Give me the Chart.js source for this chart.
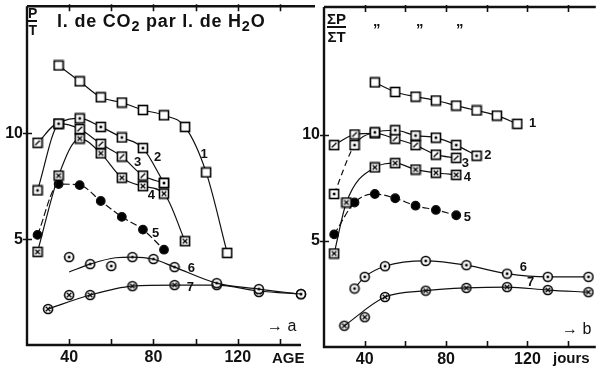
<!DOCTYPE html>
<html lang="fr">
<head>
<meta charset="UTF-8">
<title>P/T l. de CO2 par l. de H2O</title>
<script src="https://cdn.jsdelivr.net/npm/chart.js@4"></script>
<style>
body { margin:0; background:#fff; width:602px; height:368px; position:relative; overflow:hidden;
       font-family:"Liberation Sans", Arial, sans-serif; color:#111; }
canvas { position:absolute; top:0; }
#chartA { left:0; }
#chartB { left:300px; }
.t { position:absolute; font-weight:bold; white-space:nowrap; line-height:1; }
.frac { position:absolute; font-weight:bold; font-size:14px; line-height:1; text-align:center; }
.frac span { display:block; }
.frac .den { border-top:2px solid #111; padding-top:1px; }
sub { font-size:0.8em; vertical-align:-0.25em; line-height:0; }
</style>
</head>
<body>
<canvas id="chartA" width="318" height="368"></canvas>
<canvas id="chartB" width="302" height="368"></canvas>

<div class="frac" style="left:28px;top:6px;font-size:14px"><span>P</span><span class="den">T</span></div>
<div class="t" style="left:57px;top:12px;font-size:18px;letter-spacing:0.8px">l. de CO<sub>2</sub> par l. de H<sub>2</sub>O</div>
<div class="frac" style="left:327px;top:11px;font-size:15px"><span>ΣP</span><span class="den">ΣT</span></div>
<div class="t" style="left:373px;top:21px;font-size:15px">”</div>
<div class="t" style="left:416px;top:21px;font-size:15px">”</div>
<div class="t" style="left:456px;top:21px;font-size:15px">”</div>
<div class="t" style="left:272px;top:350px;font-size:15px">AGE</div>
<div class="t" style="left:553px;top:350px;font-size:15px">jours</div>
<div class="t" style="left:267px;top:318px;font-size:16px;font-weight:normal">→ a</div>
<div class="t" style="left:562px;top:321px;font-size:16px;font-weight:normal">→ b</div>

<script>
// x ticks and y ticks
const xLabels = [40, 80, 120];
const xMinor = [40, 60, 80, 100, 120, 140];
const yLabels = [5, 10];

// panel a : P/T
const a1x = [35, 45, 55, 65, 75, 85, 95, 105, 115];
const a1y = [13.2, 12.45, 11.7, 11.45, 11.1, 10.85, 10.3, 8.15, 4.35];
const a2x = [25, 35, 45, 55, 65, 75, 85];
const a2y = [7.3, 10.45, 10.7, 10.3, 9.8, 9.3, 7.65];
const a3x = [25, 35, 45, 55, 65, 75, 85];
const a3y = [9.55, 10.45, 10.2, 9.5, 8.9, 8.0, 7.65];
const a4x = [25, 35, 45, 55, 65, 75, 85, 95];
const a4y = [4.4, 8.0, 9.75, 9.05, 7.9, 7.5, 7.15, 4.9];
const a5x = [25, 35, 45, 55, 65, 75, 85];
const a5y = [5.2, 7.6, 7.55, 6.8, 6.05, 5.45, 4.5];
const a6x = [40, 50, 60, 70, 80, 90, 110, 130, 150];
const a6y = [4.15, 3.82, 3.73, 4.15, 4.06, 3.68, 2.92, 2.64, 2.4];
const a6fitx = [40, 50, 62, 70, 80, 90, 110, 130, 150];
const a6fity = [3.45, 3.82, 4.12, 4.15, 4.05, 3.68, 2.92, 2.64, 2.4];
const a7x = [30, 40, 50, 70, 90, 110, 130, 150];
const a7y = [1.7, 2.36, 2.36, 2.78, 2.83, 2.83, 2.5, 2.4];
const a7fitx = [30, 50, 70, 90, 110, 130, 150];
const a7fity = [1.7, 2.36, 2.78, 2.83, 2.83, 2.55, 2.4];

// panel b : sum P / sum T
const b1x = [45, 55, 65, 75, 85, 95, 105, 115];
const b1y = [12.45, 12.0, 11.78, 11.6, 11.36, 11.13, 10.89, 10.5];
const b2x = [25, 35, 45, 55, 65, 75, 85, 95];
const b2y = [7.2, 9.5, 10.1, 10.2, 9.95, 9.85, 9.5, 9.0];
const b3x = [25, 35, 45, 55, 65, 75, 85];
const b3y = [9.5, 10.0, 10.05, 9.8, 9.5, 9.05, 8.9];
const b4x = [25, 31, 45, 55, 65, 75, 85];
const b4y = [4.4, 6.8, 8.45, 8.65, 8.35, 8.2, 8.1];
const b5x = [25, 35, 45, 55, 65, 75, 85];
const b5y = [5.3, 6.8, 7.2, 7.0, 6.65, 6.45, 6.2];
const b6x = [35, 40, 50, 70, 90, 110, 130, 150];
const b6y = [2.75, 3.3, 3.8, 4.05, 3.85, 3.45, 3.3, 3.3];
const b7x = [30, 40, 50, 70, 90, 110, 130, 150];
const b7y = [1.0, 1.4, 2.35, 2.65, 2.78, 2.82, 2.68, 2.58];
const b7fitx = [30, 50, 70, 90, 110, 130, 150];
const b7fity = [1.0, 2.35, 2.65, 2.78, 2.82, 2.68, 2.58];

// curve numbers
const curveNames = ['1', '2', '3', '4', '5', '6', '7'];
const aNameX = [104, 82, 72.5, 79, 81, 98, 97.5];
const aNameY = [9.0, 8.85, 8.6, 7.05, 5.25, 3.6, 2.7];
const bNameX = [122.5, 100.5, 89.5, 90.5, 90.5, 118, 121.5];
const bNameY = [10.5, 9.0, 8.65, 8.0, 6.1, 3.75, 3.05];

function pts(xs, ys) { return xs.map((x, i) => ({x: x, y: ys[i]})); }

// small drawn markers: open square, square with dot / slash / cross, circle with dot / cross
function marker(kind) {
    const s = 12, c = document.createElement('canvas');
    c.width = s; c.height = s;
    const g = c.getContext('2d');
    g.strokeStyle = '#000'; g.fillStyle = '#fff'; g.lineWidth = 1.6;
    const sq = kind[0] === 's';
    if (sq) { g.fillRect(1, 1, 10, 10); g.strokeRect(1.5, 1.5, 9, 9); }
    else { g.beginPath(); g.arc(6, 6, 4.5, 0, Math.PI * 2); g.fill(); g.stroke(); }
    const m = kind.slice(1);
    g.lineWidth = 1.3;
    g.beginPath();
    if (m === 'dot') { g.fillStyle = '#000'; g.fillRect(4.7, 4.7, 2.6, 2.6); }
    if (m === 'slash') { g.moveTo(3.7, 8.3); g.lineTo(8.3, 3.7); }
    if (m === 'cross') { g.moveTo(3.7, 3.7); g.lineTo(8.3, 8.3); g.moveTo(3.7, 8.3); g.lineTo(8.3, 3.7); }
    g.stroke();
    return c;
}
const mk = {
    open: marker('s'), sdot: marker('sdot'), sslash: marker('sslash'), scross: marker('scross'),
    cdot: marker('cdot'), ccross: marker('ccross')
};

function series(xs, ys, style, extra) {
    return Object.assign({
        data: pts(xs, ys), borderColor: '#111', borderWidth: 1.2, showLine: true,
        cubicInterpolationMode: 'monotone', pointStyle: style, pointRadius: 5,
        backgroundColor: '#000', clip: false
    }, extra || {});
}
function curve(xs, ys, extra) {
    return Object.assign({
        data: pts(xs, ys), borderColor: '#111', borderWidth: 1.2, showLine: true,
        cubicInterpolationMode: 'monotone', pointRadius: 0, clip: false
    }, extra || {});
}

function axesPlugin(names, nx, ny, topExtra) {
    return {
        id: 'axes',
        afterDatasetsDraw(chart) {
            const ctx = chart.ctx, ca = chart.chartArea, x = chart.scales.x, y = chart.scales.y;
            ctx.save();
            ctx.strokeStyle = '#111';
            ctx.lineWidth = 2.4;
            ctx.beginPath();
            ctx.moveTo(ca.left, ca.top); ctx.lineTo(ca.right + topExtra, ca.top);
            ctx.moveTo(ca.left, ca.top); ctx.lineTo(ca.left, ca.bottom + 1);
            ctx.moveTo(ca.left - 1, ca.bottom); ctx.lineTo(ca.right, ca.bottom);
            ctx.stroke();
            ctx.lineWidth = 1.6;
            ctx.beginPath();
            xMinor.forEach(v => {
                const px = Math.round(x.getPixelForValue(v)) + 0.5;
                ctx.moveTo(px, ca.bottom); ctx.lineTo(px, ca.bottom - 6);
                ctx.moveTo(px, ca.top - 2); ctx.lineTo(px, ca.top + 5);
            });
            yLabels.forEach(v => {
                const py = Math.round(y.getPixelForValue(v)) + 0.5;
                ctx.moveTo(ca.left - 4, py); ctx.lineTo(ca.left + 5, py);
            });
            ctx.stroke();
            ctx.fillStyle = '#111';
            ctx.font = 'bold 16px "Liberation Sans", Arial, sans-serif';
            ctx.textAlign = 'center'; ctx.textBaseline = 'middle';
            xLabels.forEach(v => ctx.fillText(String(v), x.getPixelForValue(v), ca.bottom + 13));
            ctx.textAlign = 'right';
            yLabels.forEach(v => ctx.fillText(String(v), ca.left - 4, y.getPixelForValue(v)));
            ctx.font = 'bold 13px "Liberation Sans", Arial, sans-serif';
            ctx.textAlign = 'center';
            names.forEach((n, i) => ctx.fillText(n, x.getPixelForValue(nx[i]), y.getPixelForValue(ny[i])));
            ctx.restore();
        }
    };
}

function makeChart(id, datasets, xmax, pad, plugin) {
    return new Chart(document.getElementById(id), {
        type: 'scatter',
        data: { datasets: datasets },
        options: {
            responsive: false, animation: false,
            layout: { padding: pad },
            plugins: { legend: { display: false }, tooltip: { enabled: false } },
            scales: {
                x: { type: 'linear', min: 20, max: xmax, display: false },
                y: { type: 'linear', min: 0, max: 16, display: false }
            }
        },
        plugins: [plugin]
    });
}

makeChart('chartA', [
    series(a1x, a1y, mk.open),
    series(a2x, a2y, mk.sdot),
    series(a3x, a3y, mk.sslash),
    series(a4x, a4y, mk.scross),
    series(a5x, a5y, 'circle', { pointRadius: 4.3, borderDash: [7, 3] }),
    curve(a6fitx, a6fity),
    series(a6x, a6y, mk.cdot, { showLine: false }),
    curve(a7fitx, a7fity),
    series(a7x, a7y, mk.ccross, { showLine: false })
], 150, { left: 27, right: 17, top: 5, bottom: 23 },
   axesPlugin(curveNames, aNameX, aNameY, 14));

makeChart('chartB', [
    series(b1x, b1y, mk.open),
    series(b2x, b2y, mk.sdot, { segment: { borderDash: c => c.p0DataIndex === 0 ? [6, 4] : undefined } }),
    series(b3x, b3y, mk.sslash),
    series(b4x, b4y, mk.scross),
    series(b5x, b5y, 'circle', { pointRadius: 4.3, borderDash: [7, 3] }),
    series(b6x, b6y, mk.cdot),
    curve(b7fitx, b7fity),
    series(b7x, b7y, mk.ccross, { showLine: false })
], 153.6, { left: 24, right: 0, top: 7, bottom: 21 },
   axesPlugin(curveNames, bNameX, bNameY, 0));
</script>
</body>
</html>
